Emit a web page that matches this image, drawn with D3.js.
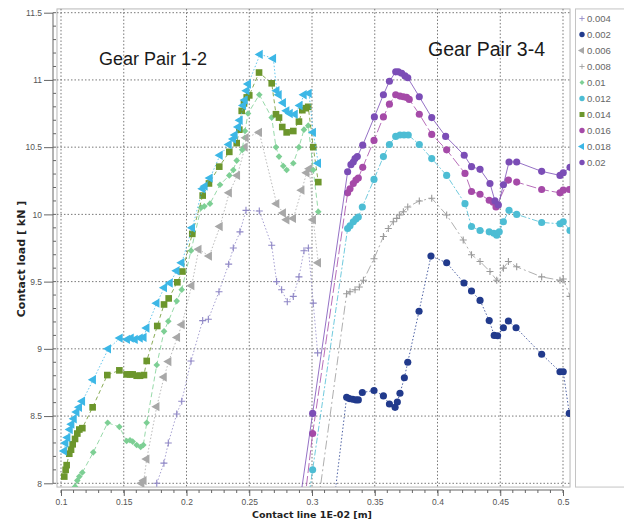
<!DOCTYPE html>
<html>
<head>
<meta charset="utf-8">
<title>Contact load</title>
<style>
  body { margin: 0; background: #fff; }
  svg { display: block; }
  .tick-label { font-family: "Liberation Sans", Arial, sans-serif; font-size: 8.5px; fill: #555; }
  .axis-title { font-family: "DejaVu Sans", sans-serif; font-weight: bold; fill: #222; }
  .legend-text { font-family: "Liberation Sans", Arial, sans-serif; font-size: 9.5px; fill: #666; }
  .pair-label { font-family: "Liberation Sans", Arial, sans-serif; fill: #1a1a1a; }
</style>
</head>
<body>
<div id="chart"></div>
<script src="https://d3js.org/d3.v7.min.js"></script>
<script>
// --- data: [contact line, contact load] ---
const s004 = [[0.1763,8.0],[0.182,8.15],[0.1855,8.30],[0.1922,8.515],[0.1962,8.61],[0.2036,8.91],[0.2129,9.21],[0.2174,9.22],[0.2259,9.425],[0.2336,9.63],[0.2373,9.75],[0.2426,9.87],[0.2474,10.03],[0.258,10.025],[0.2679,9.77],[0.2718,9.50],[0.2758,9.44],[0.2803,9.35],[0.2851,9.39],[0.2896,9.535],[0.2936,9.73],[0.2971,9.75],[0.301,9.34],[0.3045,8.97]];
const s002 = [[0.3128,7.5],[0.3276,8.64],[0.3297,8.63],[0.3324,8.625],[0.335,8.62],[0.3369,8.62],[0.3401,8.675],[0.3494,8.69],[0.3569,8.65],[0.3617,8.59],[0.3662,8.565],[0.368,8.605],[0.3701,8.67],[0.3736,8.785],[0.3763,8.90],[0.3853,9.28],[0.3948,9.69],[0.4073,9.64],[0.4211,9.49],[0.4271,9.43],[0.4339,9.36],[0.4412,9.21],[0.4452,9.10],[0.4479,9.097],[0.4525,9.157],[0.4565,9.207],[0.4626,9.157],[0.483,8.96],[0.4976,8.83],[0.5002,8.83],[0.505,8.52]];
const s006 = [[0.1643,8.0],[0.166,8.02],[0.1683,8.18],[0.1763,8.57],[0.1821,8.79],[0.1858,8.905],[0.1927,9.085],[0.1964,9.18],[0.2041,9.47],[0.2098,9.74],[0.2181,9.69],[0.2267,9.91],[0.234,10.16],[0.2405,10.29],[0.2466,10.50],[0.2474,10.57],[0.258,10.61],[0.2718,10.08],[0.2771,10.01],[0.2798,9.96],[0.2851,9.97],[0.2918,10.18],[0.2958,10.31],[0.298,10.34],[0.301,9.96],[0.305,9.64]];
const s008 = [[0.2998,7.5],[0.3276,9.41],[0.3303,9.425],[0.3343,9.44],[0.3377,9.46],[0.341,9.51],[0.3494,9.67],[0.3569,9.835],[0.3608,9.895],[0.3648,9.945],[0.3675,9.97],[0.3696,9.995],[0.3728,10.02],[0.3763,10.055],[0.3855,10.10],[0.3954,10.12],[0.4073,9.995],[0.4205,9.81],[0.4271,9.70],[0.4339,9.65],[0.4418,9.575],[0.4472,9.51],[0.4525,9.60],[0.4565,9.65],[0.4631,9.61],[0.483,9.535],[0.4976,9.51],[0.5002,9.52],[0.5056,9.39]];
const s010 = [[0.1112,7.975],[0.113,8.02],[0.1146,8.05],[0.117,8.08],[0.1257,8.23],[0.1372,8.45],[0.1465,8.42],[0.1523,8.315],[0.155,8.32],[0.1571,8.31],[0.1603,8.285],[0.1635,8.27],[0.1656,8.285],[0.1683,8.45],[0.1763,8.88],[0.1821,9.13],[0.1855,9.205],[0.1922,9.355],[0.1962,9.44],[0.2036,9.73],[0.2116,10.05],[0.2142,10.06],[0.2187,10.08],[0.2267,10.22],[0.2341,10.29],[0.2373,10.33],[0.24,10.40],[0.2444,10.48],[0.2466,10.62],[0.249,10.75],[0.258,10.89],[0.2679,10.72],[0.2713,10.50],[0.2737,10.43],[0.2771,10.36],[0.2798,10.33],[0.2851,10.38],[0.2896,10.50],[0.2936,10.63],[0.297,10.66],[0.301,10.33],[0.305,10.02]];
const s012 = [[0.2912,7.5],[0.3005,8.10],[0.3284,9.895],[0.3303,9.915],[0.3329,9.945],[0.335,9.965],[0.3369,9.98],[0.3401,10.055],[0.3494,10.26],[0.3569,10.43],[0.3617,10.52],[0.3667,10.58],[0.3701,10.59],[0.3733,10.59],[0.3767,10.59],[0.3855,10.52],[0.3954,10.415],[0.4073,10.29],[0.4219,10.08],[0.4271,9.91],[0.4339,9.88],[0.4412,9.87],[0.4449,9.86],[0.4472,9.845],[0.4492,9.87],[0.4525,9.945],[0.457,10.03],[0.4631,10.0],[0.483,9.94],[0.4976,9.93],[0.5002,9.945],[0.5056,9.88]];
const s014 = [[0.1026,8.05],[0.1037,8.10],[0.1045,8.135],[0.1066,8.22],[0.108,8.25],[0.1093,8.29],[0.1112,8.33],[0.113,8.37],[0.1146,8.40],[0.117,8.41],[0.1252,8.565],[0.1369,8.805],[0.1465,8.84],[0.1523,8.81],[0.155,8.81],[0.1571,8.81],[0.1603,8.80],[0.163,8.80],[0.1661,8.805],[0.1683,8.91],[0.1767,9.17],[0.1821,9.33],[0.1858,9.375],[0.1927,9.495],[0.1967,9.575],[0.2046,9.855],[0.2129,10.14],[0.2179,10.23],[0.2261,10.355],[0.2341,10.465],[0.24,10.53],[0.2421,10.63],[0.244,10.77],[0.2458,10.825],[0.248,10.87],[0.25,10.885],[0.2578,11.055],[0.2679,10.975],[0.2713,10.745],[0.2737,10.72],[0.2763,10.65],[0.2798,10.61],[0.2851,10.62],[0.2896,10.69],[0.2923,10.775],[0.295,10.79],[0.297,10.80],[0.301,10.50],[0.305,10.24]];
const s016 = [[0.2895,7.5],[0.3005,8.37],[0.3284,10.16],[0.3303,10.19],[0.3329,10.23],[0.335,10.255],[0.3369,10.27],[0.3404,10.35],[0.3494,10.55],[0.3569,10.725],[0.3617,10.82],[0.3667,10.89],[0.3701,10.88],[0.3728,10.875],[0.3754,10.87],[0.3775,10.855],[0.3855,10.745],[0.3954,10.595],[0.4073,10.48],[0.4219,10.305],[0.4271,10.17],[0.4339,10.15],[0.4412,10.105],[0.4444,10.09],[0.4466,10.055],[0.4565,10.255],[0.4631,10.24],[0.483,10.185],[0.4976,10.16],[0.5002,10.18],[0.505,10.185]];
const s018 = [[0.1026,8.24],[0.1037,8.30],[0.1053,8.34],[0.1072,8.40],[0.1085,8.44],[0.1104,8.48],[0.1125,8.53],[0.1146,8.565],[0.117,8.61],[0.1257,8.77],[0.1377,9.00],[0.147,9.08],[0.1528,9.07],[0.1558,9.08],[0.159,9.07],[0.163,9.08],[0.166,9.085],[0.1683,9.155],[0.1763,9.34],[0.1823,9.455],[0.1869,9.49],[0.1922,9.58],[0.1962,9.64],[0.2046,9.90],[0.2129,10.19],[0.2147,10.21],[0.2187,10.27],[0.2267,10.44],[0.2339,10.52],[0.2373,10.56],[0.2386,10.59],[0.2413,10.65],[0.2426,10.70],[0.2453,10.81],[0.2466,10.85],[0.248,10.92],[0.2492,10.97],[0.2586,11.19],[0.2692,11.16],[0.2719,10.92],[0.2737,10.89],[0.2771,10.83],[0.2798,10.77],[0.2825,10.75],[0.2865,10.745],[0.2904,10.81],[0.2936,10.89],[0.2976,10.90],[0.301,10.61],[0.305,10.38]];
const s020 = [[0.2847,7.5],[0.3005,8.52],[0.3284,10.317],[0.331,10.37],[0.3329,10.39],[0.3343,10.415],[0.3361,10.43],[0.3404,10.515],[0.3497,10.725],[0.3569,10.89],[0.3617,10.99],[0.3667,11.06],[0.3688,11.06],[0.3715,11.05],[0.3741,11.03],[0.3763,11.016],[0.3855,10.875],[0.3954,10.72],[0.4065,10.58],[0.4213,10.44],[0.4271,10.355],[0.4339,10.335],[0.4418,10.23],[0.4458,10.10],[0.4485,10.07],[0.4525,10.22],[0.457,10.39],[0.4631,10.39],[0.483,10.32],[0.4976,10.29],[0.5002,10.31],[0.5056,10.35]];

const seriesNames = ["0.004", "0.002", "0.006", "0.008", "0.01", "0.012", "0.014", "0.016", "0.018", "0.02"];
const seriesData = [s004, s002, s006, s008, s010, s012, s014, s016, s018, s020];
const xTicks = [0.1, 0.15, 0.2, 0.25, 0.3, 0.35, 0.4, 0.45, 0.5];
const yTicks = [8, 8.5, 9, 9.5, 10, 10.5, 11, 11.5];
const pairLabels = ["Gear Pair 1-2", "Gear Pair 3-4"];

// style per series (marker, colour, dash)
const styles = {
  "0.004": { shape: "plus",     color: "#8f87c6", dash: "1.5,2" },
  "0.002": { shape: "circle",   color: "#213a8c", dash: "1.5,2" },
  "0.006": { shape: "triangle", color: "#a8a8a8", dash: "1.5,2" },
  "0.008": { shape: "plus",     color: "#9a9a9a", dash: "9,3,2,3" },
  "0.01":  { shape: "diamond",  color: "#7dcf94", dash: "5,3" },
  "0.012": { shape: "circle",   color: "#4dbdd4", dash: "6,2,2,2" },
  "0.014": { shape: "square",   color: "#6c962c", dash: "4,3" },
  "0.016": { shape: "circle",   color: "#a54aa8", dash: "10,3" },
  "0.018": { shape: "triangle", color: "#3cb7e6", dash: "1.5,2" },
  "0.02":  { shape: "circle",   color: "#7b4db6", dash: null }
};

const W = 624, H = 524;
const x = d3.scaleLinear().domain([0.1, 0.5]).range([61, 563]);
const y = d3.scaleLinear().domain([8, 11.5]).range([483.3, 12.7]);

const svg = d3.select('#chart').append('svg').attr('width', W).attr('height', H);

// plot frame
const fx0 = x(0.0968), fx1 = x(0.5056), fy0 = y(11.528), fy1 = y(7.972);
svg.append('defs').append('clipPath').attr('id', 'clip')
  .append('rect').attr('x', fx0).attr('y', fy0).attr('width', fx1 - fx0).attr('height', fy1 - fy0);

svg.append('rect').attr('x', fx0).attr('y', fy0).attr('width', fx1 - fx0).attr('height', fy1 - fy0)
  .attr('fill', '#fff').attr('stroke', '#b8b8b8');

// grid
const grid = svg.append('g');
grid.selectAll('.gx').data(xTicks).enter().append('line')
  .attr('x1', d => x(d)).attr('x2', d => x(d)).attr('y1', fy0).attr('y2', fy1)
  .attr('stroke', '#777').attr('stroke-dasharray', '1.5,2');
grid.selectAll('.gy').data(yTicks).enter().append('line')
  .attr('y1', d => y(d)).attr('y2', d => y(d)).attr('x1', fx0).attr('x2', fx1)
  .attr('stroke', '#777').attr('stroke-dasharray', '1.5,2');

// axes
const xAxisY = 490;
const xAxis = svg.append('g').attr('transform', `translate(0,${xAxisY})`)
  .call(d3.axisBottom(x).tickValues(xTicks).tickSize(6).tickPadding(3).tickFormat(d3.format('')));
xAxis.append('g').selectAll('line').data(d3.range(0.1, 0.5001, 0.01)).enter().append('line')
  .attr('x1', d => x(d)).attr('x2', d => x(d)).attr('y1', 0).attr('y2', 3).attr('stroke', '#666');

const yAxisX = 53;
const yAxis = svg.append('g').attr('transform', `translate(${yAxisX},0)`)
  .call(d3.axisLeft(y).tickValues(yTicks).tickSize(9).tickPadding(2).tickFormat(d3.format('')));
yAxis.append('g').selectAll('line').data(d3.range(8, 11.5001, 0.1)).enter().append('line')
  .attr('y1', d => y(d)).attr('y2', d => y(d)).attr('x1', 0).attr('x2', 3).attr('stroke', '#666');

[xAxis, yAxis].forEach(a => {
  a.select('.domain').attr('stroke', '#666');
  a.selectAll('.tick line').attr('stroke', '#666');
  a.selectAll('.tick text').attr('class', 'tick-label').attr('fill', null);
});
yAxis.select('.domain').attr('d', `M0,${y(8)}V${y(11.5)}`);
xAxis.select('.domain').attr('d', `M${x(0.1)},0H${x(0.5)}`);

svg.append('text').attr('class', 'axis-title').attr('font-size', 9.5)
  .attr('x', 312).attr('y', 518).attr('text-anchor', 'middle').text('Contact line 1E-02 [m]');
svg.append('text').attr('class', 'axis-title').attr('font-size', 11)
  .attr('transform', 'translate(25,259) rotate(-90)').attr('text-anchor', 'middle').text('Contact load [ kN ]');

// markers
function drawMarker(sel, shape, color) {
  if (shape === 'plus') {
    sel.append('path').attr('d', 'M-3.5,0H3.5M0,-3.5V3.5').attr('stroke', color).attr('stroke-width', 1.1).attr('fill', 'none');
  } else if (shape === 'circle') {
    sel.append('path').attr('d', d3.symbol(d3.symbolCircle, 40)()).attr('fill', color);
  } else if (shape === 'square') {
    sel.append('path').attr('d', d3.symbol(d3.symbolSquare, 44)()).attr('fill', color);
  } else if (shape === 'triangle') {
    sel.append('path').attr('d', d3.symbol(d3.symbolTriangle, 38)()).attr('transform', 'rotate(-90)').attr('fill', color);
  } else if (shape === 'diamond') {
    sel.append('path').attr('d', d3.symbol(d3.symbolSquare, 22)()).attr('transform', 'rotate(45)').attr('fill', color);
  }
}

// series
const plot = svg.append('g').attr('clip-path', 'url(#clip)');
const line = d3.line().x(d => x(d[0])).y(d => y(d[1]));

seriesNames.forEach((name, i) => {
  const st = styles[name];
  const g = plot.append('g');
  g.append('path').datum(seriesData[i]).attr('d', line)
    .attr('fill', 'none').attr('stroke', st.color).attr('stroke-width', 1)
    .attr('stroke-opacity', 0.8).attr('stroke-dasharray', st.dash);
  g.selectAll('g.pt').data(seriesData[i]).enter().append('g')
    .attr('transform', d => `translate(${x(d[0])},${y(d[1])})`)
    .each(function () { drawMarker(d3.select(this), st.shape, st.color); });
});

// pair labels
svg.append('text').attr('class', 'pair-label').attr('font-size', 18)
  .attr('x', 99).attr('y', 65).text(pairLabels[0]);
svg.append('text').attr('class', 'pair-label').attr('font-size', 19.5)
  .attr('x', 428).attr('y', 56).text(pairLabels[1]);

// legend
const lg = svg.append('g');
lg.append('rect').attr('x', 575.5).attr('y', fy0).attr('width', 60).attr('height', fy1 - fy0)
  .attr('fill', '#fff').attr('stroke', '#c4c4c4');
seriesNames.forEach((name, i) => {
  const row = lg.append('g').attr('transform', `translate(582,${18.5 + i * 16})`);
  drawMarker(row.append('g').attr('transform', 'scale(0.75)'), styles[name].shape, styles[name].color);
  row.append('text').attr('class', 'legend-text').attr('x', 5).attr('y', 3.5).text(name);
});
</script>
</body>
</html>
